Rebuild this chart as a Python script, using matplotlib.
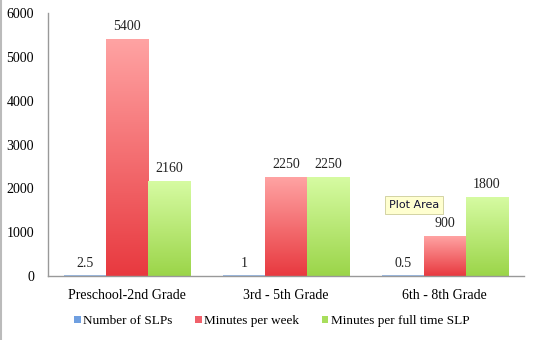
import matplotlib

matplotlib.use("Agg")

import matplotlib.pyplot as plt
import numpy as np
from matplotlib.colors import LinearSegmentedColormap

# Data
grades = ["Preschool-2nd Grade", "3rd - 5th Grade", "6th - 8th Grade"]
series = ["Number of SLPs", "Minutes per week", "Minutes per full time SLP"]
num_slps = [2.5, 1, 0.5]
minutes_week = [5400, 2250, 900]
minutes_slp = [2160, 2250, 1800]
value_labels = [["2.5", "1", "0.5"], ["5400", "2250", "900"], ["2160", "2250", "1800"]]

# (bottom colour, top colour) for the gradient fills
gradients = [("#7fa9df", "#a9c6ee"), ("#e8393f", "#ffa3a3"), ("#9bd549", "#d6fba2")]
legend_colors = ["#6f9fe0", "#f0606a", "#a8de5c"]

plt.rcParams["font.family"] = ["Liberation Serif", "DejaVu Serif"]

fig = plt.figure(figsize=(5.37, 3.40), dpi=100)
ax = fig.add_axes([0.089, 0.188, 0.887, 0.774])

x = np.arange(len(grades))
width = 0.265
values = [num_slps, minutes_week, minutes_slp]
grad = np.linspace(0, 1, 256).reshape(-1, 1)

for i, vals in enumerate(values):
    cmap = LinearSegmentedColormap.from_list("g%d" % i, gradients[i])
    offs = (i - 1) * width
    bars = ax.bar(x + offs, vals, width, color=legend_colors[i], label=series[i], zorder=1)
    for b, v, lab in zip(bars, vals, value_labels[i]):
        x0 = b.get_x()
        x1 = x0 + b.get_width()
        h = max(v, 12)
        ax.imshow(grad, cmap=cmap, origin="lower", aspect="auto",
                  extent=(x0, x1, 0, h), zorder=2)
        ax.text(b.get_x() + b.get_width() / 2, v + 290, lab,
                ha="center", va="center", fontsize=10, color="#222222")

ax.set_xlim(-0.5, len(grades) - 0.5)
ax.set_ylim(0, 6000)
ax.set_yticks(range(0, 6001, 1000))
ax.set_xticks(x)
ax.set_xticklabels(grades, fontsize=10)
ax.tick_params(axis="y", labelsize=10, length=0, pad=10)
ax.tick_params(axis="x", length=0, pad=9)
for s in ["top", "right"]:
    ax.spines[s].set_visible(False)
for s in ["left", "bottom"]:
    ax.spines[s].set_color("#999999")
    ax.spines[s].set_linewidth(1.0)

handles, labels = ax.get_legend_handles_labels()
fig.legend(handles, labels, loc="center", bbox_to_anchor=(0.506, 0.056), ncol=3,
           frameon=False, fontsize=9.5, handlelength=0.5, handleheight=0.5,
           handletextpad=0.2, columnspacing=1.7, borderaxespad=0, borderpad=0)

# tooltip shown in the screenshot
fig.text(0.7245, 0.398, "Plot Area", fontsize=8, family="DejaVu Sans",
         ha="left", va="center", color="#111133",
         bbox=dict(boxstyle="square,pad=0.35", fc="#ffffd0", ec="#cccc99", lw=0.6))

# left window edge
fig.add_artist(plt.Line2D([0.002, 0.002], [0, 1], color="#bbbbbb", lw=1.5))

plt.savefig("out.png", dpi=100)
plt.close()
